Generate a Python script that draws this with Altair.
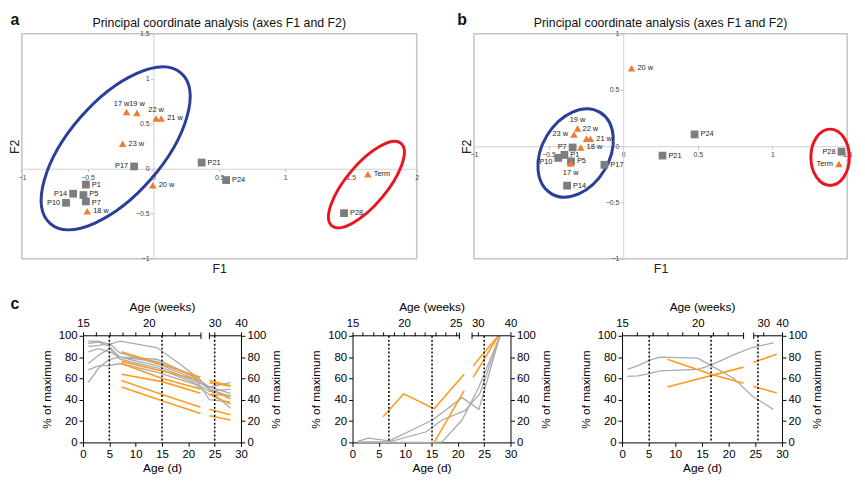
import altair as alt
import pandas as pd

FONT = "Liberation Sans"
SQ_COLOR = "#7d7d7d"
TRI_COLOR = "#ee7d31"
BLUE = "#2b3f98"
RED = "#e8161e"
GRAY_LINE = "#ababab"
ORANGE_LINE = "#ff9b1f"
PCOA_TITLE = "Principal coordinate analysis (axes F1 and F2)"

# ---------------- Panel a data ----------------
a_names = ["P1", "P5", "P7", "P10", "P14", "P17", "P21", "P24", "P28",
           "17 w", "18 w", "19 w", "20 w", "21 w", "22 w", "23 w", "Term"]
a_f1 = [-0.513, -0.532, -0.513, -0.664, -0.61, -0.147, 0.366, 0.552, 1.448,
        -0.205, -0.503, -0.125, -0.005, 0.059, 0.02, -0.234, 1.629]
a_f2 = [-0.176, -0.292, -0.363, -0.378, -0.277, 0.026, 0.069, -0.126, -0.493,
        0.631, -0.471, 0.62, -0.184, 0.559, 0.559, 0.278, -0.061]
a_group = ["P"] * 9 + ["W"] * 8
a_labelpos = ["r", "ru", "rd", "l", "l", "l", "r", "r", "r",
              "tl", "r", "t", "r", "r", "t", "r", "r"]
a_ell_f1 = [-0.287, 1.618]
a_ell_f2 = [0.227, -0.176]

# ---------------- Panel b data ----------------
b_names = ["P1", "P5", "P7", "P10", "P14", "P17", "P21", "P24", "P28",
           "17 w", "18 w", "19 w", "20 w", "21 w", "22 w", "23 w", "Term"]
b_f1 = [-0.394, -0.35, -0.339, -0.435, -0.376, -0.126, 0.263, 0.478, 1.462,
        -0.352, -0.285, -0.306, 0.056, -0.22, -0.246, -0.33, 1.445]
b_f2 = [-0.077, -0.134, -0.011, -0.103, -0.35, -0.165, -0.083, 0.105, -0.048,
        -0.154, -0.011, 0.157, 0.692, 0.066, 0.066, 0.105, -0.157]
b_group = ["P"] * 9 + ["W"] * 8
b_labelpos = ["r", "r", "l", "lb", "r", "r", "r", "r", "l",
              "b", "r", "t", "r", "r", "tr", "l", "l"]
b_ell_f1 = [-0.319, 1.386]
b_ell_f2 = [-0.06, -0.098]

# ---------------- Panel c data ----------------
c1_gray = [
    ([1, 3, 5, 7, 14, 18, 22, 25, 28], [95, 95, 92, 95, 89, 75, 60, 45, 32]),
    ([1, 3, 5, 7, 14, 21, 24, 28], [93, 94, 90, 80, 78, 62, 52, 46]),
    ([1, 3, 5, 7, 14, 21, 24, 28], [90, 91, 93, 84, 74, 60, 50, 43]),
    ([1, 3, 5, 7, 14, 21, 24, 28], [85, 88, 85, 80, 72, 58, 52, 56]),
    ([1, 3, 5, 7, 14, 21, 24, 28], [74, 82, 88, 78, 70, 56, 48, 50]),
    ([1, 3, 5, 7, 14, 21, 24, 28], [68, 72, 72, 74, 66, 55, 45, 44]),
    ([1, 3, 5, 7, 14, 21, 24, 28], [56, 70, 78, 80, 76, 62, 40, 38]),
]
c1_orange = [
    ([7.3, 15, 22.3], [85, 73, 61]), ([24, 28], [58, 53]),
    ([7.3, 15, 22.3], [76, 67, 58]), ([24, 28], [56, 53]),
    ([7.3, 15, 22.3], [74, 60, 50]), ([24, 28], [50, 41]),
    ([7.3, 15, 22.3], [64, 57, 46]), ([24, 28], [45, 36]),
    ([7.3, 15, 22.3], [58, 45, 33]), ([24, 28], [31, 26]),
    ([7.3, 15, 22.3], [52, 39, 27]), ([24, 28], [25, 21]),
]
c1_dotted = [5, 15, 25]
c1_week_ticks = [0, 2.5, 5, 7.5, 10, 12.5, 15, 17.5, 20, 25, 30]
c1_week_labels = {0: "15", 12.5: "20", 25: "30", 30: "40"}
c1_axis_start = [0, 24]
c1_axis_end = [22.4, 30]
c1_breaks = [22.4, 24]

c2_gray = [
    ([1, 3, 7, 15.2, 20.8, 24, 28], [1, 4, 1.5, 21, 42, 31, 100]),
    ([1, 7, 14, 17, 21.4, 24.2, 28], [0.5, 0.5, 10, 21, 30, 46, 100]),
    ([1, 15.2, 17, 20.8, 24, 28], [0, 0, 0.5, 21, 52, 100]),
]
c2_orange = [
    ([5.8, 9.7, 15.5, 21.2], [24, 45.5, 31.5, 64]),
    ([15.5, 21.2], [0, 48.5]),
    ([22.9, 27.7], [72, 100]),
    ([22.9, 27.7], [61, 100]),
]
c2_dotted = [6.9, 15.1, 25]
c2_week_ticks = [0, 1.96, 3.92, 5.88, 7.84, 9.8, 11.76, 13.72, 15.68, 17.64, 19.6, 23.8, 30]
c2_week_labels = {0: "15", 9.8: "20", 19.6: "25", 23.8: "30", 30: "40"}
c2_axis_start = [0, 22.7]
c2_axis_end = [20.3, 30]
c2_breaks = [20.3, 22.7]

c3_gray = [
    ([1, 3, 5.1, 7.1, 14.2, 16.7, 21, 24.4, 28.4], [68.5, 72, 77, 80, 79, 72, 60, 43.6, 31]),
    ([1, 3, 5.1, 7.1, 14.2, 16.7, 21, 24.4, 28.4], [62, 62.4, 64.5, 67, 68.5, 72.5, 82.4, 89, 93.3]),
]
c3_orange = [
    ([8.5, 16.7, 22.8], [78, 64, 55.5]), ([24.6, 29], [52.7, 46.4]),
    ([8.5, 22.8], [52, 70.6]), ([24.6, 29], [75, 82.6]),
]
c3_dotted = [5.1, 16.7, 25.5]
c3_week_ticks = [0, 2.84, 5.68, 8.52, 11.36, 14.2, 17.04, 19.88, 26.5, 30]
c3_week_labels = {0: "15", 14.2: "20", 26.5: "30", 30: "40"}
c3_axis_start = [0, 24.7]
c3_axis_end = [22.8, 30]
c3_breaks = [22.8, 24.7]

LABEL_POS = {
    "r": dict(align="left", dx=6, dy=0),
    "ru": dict(align="left", dx=6, dy=-1.5),
    "rd": dict(align="left", dx=6, dy=1.5),
    "l": dict(align="right", dx=-6, dy=0),
    "lb": dict(align="right", dx=-6, dy=4),
    "t": dict(align="center", dx=0, dy=-9),
    "tl": dict(align="right", dx=3, dy=-8),
    "tr": dict(align="left", dx=-4, dy=-10),
    "b": dict(align="center", dx=0, dy=10),
}

NO_STROKE = alt.ViewBackground(strokeWidth=0, strokeOpacity=0)


def ellipse_path(ratio):
    k = 0.5523
    r = ratio
    kr = k * r
    return (f"M1,0 C1,{kr:.4f} {k},{r:.4f} 0,{r:.4f} "
            f"C{-k},{r:.4f} -1,{kr:.4f} -1,0 "
            f"C-1,{-kr:.4f} {-k},{-r:.4f} 0,{-r:.4f} "
            f"C{k},{-r:.4f} 1,{-kr:.4f} 1,0 Z")


def note(text, x, y, size, weight="normal", align="center"):
    return alt.Chart(alt.Data(values=[{}])).mark_text(
        text=text, fontSize=size, fontWeight=weight, color="#111", align=align,
        baseline="middle").encode(x=alt.value(x), y=alt.value(y))


def pcoa(letter, names, f1, f2, group, labelpos, ell_f1, ell_f2, ell_styles,
         xdom, ydom, xvals, yvals, W, H, letter_x):
    df = pd.DataFrame({"name": names, "F1": f1, "F2": f2, "group": group, "pos": labelpos})
    edf = pd.DataFrame({"F1": ell_f1, "F2": ell_f2})
    below0 = (0 - ydom[0]) / (ydom[1] - ydom[0]) * H
    left0 = (0 - xdom[0]) / (xdom[1] - xdom[0]) * W
    common = dict(domainColor="#d0d0d0", domainWidth=1, tickColor="#bdbdbd", tickSize=3,
                  labelFontSize=7, labelColor="#444", labelPadding=1.5, labelFlush=False,
                  labelOverlap=False, grid=False, titleFontSize=12.5, titleFontWeight="normal",
                  titleColor="#222", format="~g")
    xaxis = alt.Axis(values=xvals, offset=-below0, title="F1", titleY=below0 + 4,
                     titleBaseline="top", **common)
    yaxis = alt.Axis(values=yvals, offset=-left0, title="F2", titleX=-left0,
                     titleBaseline="bottom", **common)
    X = alt.X("F1:Q", scale=alt.Scale(domain=xdom, nice=False, zero=False), axis=xaxis)
    Y = alt.Y("F2:Q", scale=alt.Scale(domain=ydom, nice=False, zero=False), axis=yaxis)

    layers = []
    for i, (major, minor, tilt, col) in enumerate(ell_styles):
        layers.append(
            alt.Chart(edf.iloc[[i]]).mark_point(
                shape=ellipse_path(minor / major), size=major ** 2, angle=(360 - tilt) % 360,
                filled=False, color=col, strokeWidth=3, opacity=1
            ).encode(x=X, y=Y)
        )
    layers.append(alt.Chart(df[df.group == "P"]).mark_point(
        shape="square", filled=True, size=62, color=SQ_COLOR, opacity=1).encode(x=X, y=Y))
    layers.append(alt.Chart(df[df.group == "W"]).mark_point(
        shape="triangle-up", filled=True, size=58, color=TRI_COLOR, opacity=1).encode(x=X, y=Y))
    for p, spec in LABEL_POS.items():
        sub = df[df.pos == p]
        if len(sub) == 0:
            continue
        layers.append(alt.Chart(sub).mark_text(
            fontSize=7.5, color="#222", baseline="middle", **spec
        ).encode(x=X, y=Y, text="name:N"))
    layers.append(note(letter, letter_x, -14, 16, "bold"))
    layers.append(note(PCOA_TITLE, W / 2, -11, 12.5))
    return alt.layer(*layers).properties(
        width=W, height=H,
        view=alt.ViewBackground(stroke="#c3c3c3", strokeWidth=1.5),
    )


def label_expr(mapping):
    expr = "''"
    for v, lab in reversed(list(mapping.items())):
        expr = f"abs(datum.value - {v}) < 0.01 ? '{lab}' : {expr}"
    return expr


def cpanel(gray, orange, dotted, week_ticks, week_labels, seg_start, seg_end, breaks,
           W=160, H=108):
    grows, orows = [], []
    for i, (ds, ps) in enumerate(gray):
        for d, p in zip(ds, ps):
            grows.append({"line": f"g{i}", "d": d, "pct": p})
    for i, (ds, ps) in enumerate(orange):
        for d, p in zip(ds, ps):
            orows.append({"line": f"o{i}", "d": d, "pct": p})
    gdf, odf = pd.DataFrame(grows), pd.DataFrame(orows)
    xsc = alt.Scale(domain=[0, 30], nice=False, zero=False)
    ysc = alt.Scale(domain=[0, 100], nice=False, zero=False)
    ax = dict(domainColor="black", domainWidth=1, tickColor="black", tickWidth=1,
              labelFontSize=11.5, labelColor="black", grid=False, titleFontSize=12,
              titleFontWeight="normal", titleColor="black", labelFlush=False, labelOverlap=False)
    bottom = alt.Axis(orient="bottom", values=[0, 5, 10, 15, 20, 25, 30], title="Age (d)",
                      tickSize=4, labelPadding=2, titlePadding=3, **ax)
    left = alt.Axis(orient="left", values=[0, 20, 40, 60, 80, 100], title="% of maximum",
                    tickSize=4, labelPadding=2, titlePadding=5, **ax)
    right = alt.Axis(orient="right", values=[0, 20, 40, 60, 80, 100], title="% of maximum",
                     tickSize=4, labelPadding=2, titlePadding=5, titleAngle=270,
                     titleBaseline="top", **ax)
    top = alt.Axis(orient="top", values=week_ticks, labelExpr=label_expr(week_labels),
                   domain=False, title="Age (weeks)", tickSize=4, labelPadding=3,
                   titlePadding=5, **ax)

    seg = pd.DataFrame({"x0": seg_start, "x1": seg_end, "yv": [100] * len(seg_start)})
    caps = pd.DataFrame({"d": breaks, "y0": [97] * len(breaks), "y1": [103] * len(breaks)})
    dots = pd.DataFrame({"d": dotted})

    layers = [
        alt.Chart(gdf).mark_line(color=GRAY_LINE, strokeWidth=1.3).encode(
            x=alt.X("d:Q", scale=xsc, axis=bottom), y=alt.Y("pct:Q", scale=ysc, axis=left),
            detail="line:N"),
        alt.Chart(odf).mark_line(color=ORANGE_LINE, strokeWidth=1.6).encode(
            x=alt.X("d:Q", scale=xsc, axis=None), y=alt.Y("pct:Q", scale=ysc, axis=None),
            detail="line:N"),
        alt.Chart(dots).mark_rule(color="black", strokeDash=[2, 2], strokeWidth=1.5).encode(
            x=alt.X("d:Q", scale=xsc, axis=None)),
        alt.Chart(seg).mark_rule(color="black", strokeWidth=1).encode(
            x=alt.X("x0:Q", scale=xsc, axis=top), x2="x1:Q",
            y=alt.Y("yv:Q", scale=ysc, axis=right)),
        alt.Chart(caps).mark_rule(color="black", strokeWidth=1).encode(
            x=alt.X("d:Q", scale=xsc, axis=None), y=alt.Y("y0:Q", scale=ysc, axis=None),
            y2="y1:Q"),
    ]
    return alt.layer(*layers).properties(width=W, height=H, view=NO_STROKE).resolve_axis(
        x="independent", y="independent")


a_chart = pcoa("a", a_names, a_f1, a_f2, a_group, a_labelpos, a_ell_f1, a_ell_f2,
               [(202, 95, 49, BLUE), (109, 41, 50, RED)],
               [-1, 2], [-1, 1.5], [-1, -0.5, 0, 0.5, 1, 1.5, 2],
               [-1, -0.5, 0, 0.5, 1, 1.5], 400, 228, -7)
b_chart = pcoa("b", b_names, b_f1, b_f2, b_group, b_labelpos, b_ell_f1, b_ell_f2,
               [(96, 68, 59, BLUE), (57, 39, 90, RED)],
               [-1, 1.5], [-1, 1], [-1, -0.5, 0, 0.5, 1, 1.5],
               [-1, -0.5, 0, 0.5, 1], 378, 228, -12)

c_letter = note("c", -7, -32, 16, "bold").properties(width=1, height=108, view=NO_STROKE)

c1 = cpanel(c1_gray, c1_orange, c1_dotted, c1_week_ticks, c1_week_labels,
            c1_axis_start, c1_axis_end, c1_breaks)
c2 = cpanel(c2_gray, c2_orange, c2_dotted, c2_week_ticks, c2_week_labels,
            c2_axis_start, c2_axis_end, c2_breaks)
c3 = cpanel(c3_gray, c3_orange, c3_dotted, c3_week_ticks, c3_week_labels,
            c3_axis_start, c3_axis_end, c3_breaks, W=162)

row1 = alt.hconcat(a_chart, b_chart, spacing=37)
c_row = alt.hconcat(c1, c2, c3, spacing=27)
row2 = alt.hconcat(c_letter, c_row, spacing=17)
chart = alt.vconcat(row1, row2, spacing=20).properties(padding=0)
chart = chart.configure_view(stroke=None).configure(font=FONT).configure_axis(
    labelFont=FONT, titleFont=FONT).configure_title(font=FONT).configure_text(font=FONT)

chart.save("out.html", embed_options={"renderer": "svg", "actions": False})
